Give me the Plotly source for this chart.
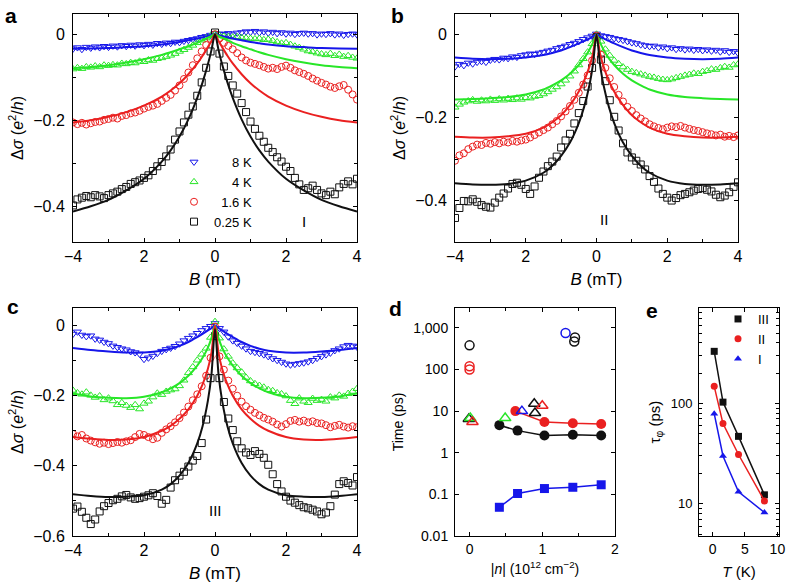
import numpy as np
import plotly.graph_objects as go

W, H = 788, 586

# field sweep for the measured curves (mT), step 0.125
B = np.round(np.arange(-4, 4.0001, 0.125), 3)
# field points for the fitted curves
fit_B = [-4, -3.5, -3, -2.5, -2, -1.5, -1.25, -1, -0.75, -0.5, -0.35, -0.2, -0.1, 0,
         0.1, 0.2, 0.35, 0.5, 0.75, 1, 1.25, 1.5, 2, 2.5, 3, 3.5, 4]

# ---- panel a (sample I)
a_8K = [-0.034, -0.031, -0.035, -0.030, -0.032, -0.029, -0.031, -0.028, -0.030,
        -0.027, -0.029, -0.026, -0.028, -0.025, -0.027, -0.024, -0.026,
        -0.023, -0.025, -0.021, -0.023, -0.020, -0.021, -0.018, -0.019,
        -0.016, -0.014, -0.012, -0.010, -0.007, -0.005, -0.002,
        0.002,
        0.001, 0.000, 0.002, -0.001, 0.003, 0.004, 0.006, 0.005,
        0.007, 0.004, 0.006, 0.003, 0.005, 0.002, 0.004, 0.001,
        0.003, 0.000, 0.002, 0.003, 0.001, 0.002, -0.001, 0.001,
        0.000, 0.002, -0.001, 0.001, -0.002, 0.000, 0.001, -0.001]
a_4K = [-0.081, -0.078, -0.080, -0.076, -0.077, -0.074, -0.076, -0.072, -0.073,
        -0.071, -0.072, -0.068, -0.069, -0.066, -0.067, -0.063, -0.064,
        -0.060, -0.061, -0.057, -0.055, -0.052, -0.049, -0.045, -0.040,
        -0.036, -0.031, -0.026, -0.020, -0.014, -0.009, -0.004,
        0.000,
        -0.003, -0.005, -0.006, -0.007, -0.006, -0.008, -0.009, -0.010,
        -0.011, -0.010, -0.013, -0.012, -0.015, -0.018, -0.021, -0.020,
        -0.024, -0.028, -0.031, -0.035, -0.039, -0.041, -0.044, -0.046,
        -0.048, -0.045, -0.050, -0.047, -0.052, -0.050, -0.054, -0.056]
a_16K = [-0.205, -0.209, -0.206, -0.210, -0.207, -0.204, -0.203, -0.199, -0.197,
         -0.194, -0.196, -0.190, -0.188, -0.184, -0.182, -0.178, -0.173,
         -0.169, -0.166, -0.162, -0.155, -0.148, -0.141, -0.131, -0.119,
         -0.104, -0.089, -0.072, -0.056, -0.040, -0.025, -0.011,
         0.000,
         -0.010, -0.020, -0.027, -0.035, -0.044, -0.054, -0.061, -0.066,
         -0.069, -0.072, -0.076, -0.080, -0.078, -0.081, -0.076, -0.073,
         -0.078, -0.084, -0.088, -0.092, -0.097, -0.103, -0.108, -0.113,
         -0.117, -0.122, -0.125, -0.121, -0.118, -0.129, -0.140, -0.152]
a_025K = [-0.398, -0.384, -0.380, -0.376, -0.379, -0.374, -0.377, -0.381, -0.374,
          -0.370, -0.366, -0.360, -0.355, -0.348, -0.344, -0.340, -0.334,
          -0.328, -0.318, -0.307, -0.297, -0.284, -0.268, -0.245, -0.226,
          -0.205, -0.187, -0.168, -0.143, -0.112, -0.078, -0.040,
          0.004,
          -0.045, -0.075, -0.097, -0.119, -0.138, -0.160, -0.181, -0.203,
          -0.220, -0.236, -0.250, -0.264, -0.274, -0.286, -0.296, -0.308,
          -0.318, -0.334, -0.349, -0.362, -0.358, -0.352, -0.362, -0.370,
          -0.374, -0.366, -0.372, -0.356, -0.348, -0.342, -0.349, -0.336]
a_fit_8K = [-0.034, -0.033, -0.032, -0.030, -0.028, -0.024, -0.021, -0.018, -0.014, -0.010, -0.007, -0.004, -0.002, 0,
            -0.002, -0.004, -0.007, -0.010, -0.014, -0.018, -0.021, -0.024, -0.028, -0.030, -0.032, -0.033, -0.034]
a_fit_4K = [-0.079, -0.076, -0.072, -0.066, -0.058, -0.048, -0.042, -0.035, -0.028, -0.020, -0.014, -0.008, -0.004, 0,
            -0.004, -0.008, -0.014, -0.020, -0.028, -0.035, -0.042, -0.048, -0.058, -0.066, -0.072, -0.076, -0.079]
a_fit_16K = [-0.205, -0.200, -0.192, -0.181, -0.166, -0.145, -0.131, -0.114, -0.093, -0.068, -0.050, -0.030, -0.016, 0,
             -0.016, -0.030, -0.050, -0.068, -0.093, -0.114, -0.131, -0.145, -0.166, -0.181, -0.192, -0.200, -0.205]
a_fit_025K = [-0.412, -0.400, -0.385, -0.363, -0.336, -0.296, -0.270, -0.238, -0.198, -0.148, -0.112, -0.070, -0.037, 0,
              -0.037, -0.070, -0.112, -0.148, -0.198, -0.238, -0.270, -0.296, -0.336, -0.363, -0.385, -0.400, -0.412]

# ---- panel b (sample II)
b_8K = [-0.077, -0.071, -0.074, -0.068, -0.070, -0.066, -0.064, -0.066, -0.061,
        -0.059, -0.060, -0.056, -0.057, -0.053, -0.054, -0.050, -0.048,
        -0.046, -0.047, -0.044, -0.042, -0.039, -0.037, -0.033, -0.030,
        -0.027, -0.023, -0.020, -0.016, -0.011, -0.007, -0.003,
        0.002,
        -0.002, -0.004, -0.006, -0.009, -0.011, -0.013, -0.016, -0.019,
        -0.021, -0.024, -0.026, -0.028, -0.027, -0.031, -0.029, -0.033,
        -0.031, -0.035, -0.033, -0.036, -0.034, -0.037, -0.035, -0.038,
        -0.036, -0.039, -0.037, -0.041, -0.038, -0.042, -0.040, -0.044]
b_4K = [-0.175, -0.168, -0.163, -0.160, -0.157, -0.161, -0.158, -0.160, -0.156,
        -0.159, -0.155, -0.158, -0.154, -0.157, -0.153, -0.156, -0.152,
        -0.153, -0.149, -0.147, -0.143, -0.138, -0.132, -0.126, -0.119,
        -0.110, -0.100, -0.088, -0.073, -0.058, -0.042, -0.022,
        0.001,
        -0.016, -0.035, -0.050, -0.062, -0.070, -0.078, -0.084, -0.089,
        -0.092, -0.095, -0.098, -0.101, -0.103, -0.106, -0.108, -0.109,
        -0.107, -0.104, -0.101, -0.098, -0.096, -0.093, -0.094, -0.089,
        -0.087, -0.083, -0.084, -0.080, -0.077, -0.079, -0.073, -0.071]
b_16K = [-0.304, -0.291, -0.286, -0.276, -0.270, -0.265, -0.266, -0.261, -0.263,
         -0.259, -0.262, -0.258, -0.260, -0.256, -0.258, -0.255, -0.253,
         -0.248, -0.242, -0.236, -0.230, -0.224, -0.216, -0.208, -0.197,
         -0.185, -0.172, -0.157, -0.140, -0.120, -0.098, -0.062,
         -0.002,
         -0.048, -0.080, -0.105, -0.126, -0.145, -0.161, -0.174, -0.184,
         -0.194, -0.202, -0.209, -0.216, -0.221, -0.225, -0.228, -0.224,
         -0.221, -0.223, -0.220, -0.224, -0.227, -0.230, -0.232, -0.235,
         -0.238, -0.240, -0.243, -0.241, -0.246, -0.244, -0.247, -0.243]
b_025K = [-0.442, -0.418, -0.401, -0.402, -0.397, -0.403, -0.411, -0.415, -0.417,
          -0.405, -0.393, -0.383, -0.371, -0.360, -0.357, -0.362, -0.372,
          -0.384, -0.366, -0.345, -0.330, -0.317, -0.306, -0.294, -0.272,
          -0.255, -0.239, -0.214, -0.189, -0.160, -0.125, -0.080,
          -0.006,
          -0.060, -0.112, -0.158, -0.198, -0.231, -0.262, -0.284, -0.296,
          -0.304, -0.313, -0.325, -0.341, -0.355, -0.371, -0.384, -0.393,
          -0.400, -0.394, -0.387, -0.384, -0.380, -0.376, -0.372, -0.370,
          -0.374, -0.378, -0.386, -0.392, -0.388, -0.380, -0.367, -0.356]
b_fit_8K = [-0.055, -0.058, -0.059, -0.058, -0.055, -0.049, -0.044, -0.038, -0.030, -0.021, -0.015, -0.009, -0.004, 0,
            -0.004, -0.009, -0.015, -0.021, -0.030, -0.038, -0.044, -0.049, -0.055, -0.058, -0.059, -0.058, -0.055]
b_fit_4K = [-0.156, -0.155, -0.153, -0.150, -0.144, -0.132, -0.122, -0.110, -0.094, -0.073, -0.057, -0.036, -0.019, 0,
            -0.019, -0.036, -0.057, -0.073, -0.094, -0.110, -0.122, -0.132, -0.144, -0.150, -0.153, -0.155, -0.156]
b_fit_16K = [-0.246, -0.248, -0.248, -0.245, -0.239, -0.224, -0.211, -0.194, -0.170, -0.137, -0.111, -0.077, -0.045, 0,
             -0.045, -0.077, -0.111, -0.137, -0.170, -0.194, -0.211, -0.224, -0.239, -0.245, -0.248, -0.248, -0.246]
b_fit_025K = [-0.358, -0.361, -0.362, -0.360, -0.352, -0.333, -0.316, -0.292, -0.260, -0.213, -0.174, -0.122, -0.072, 0,
              -0.072, -0.122, -0.174, -0.213, -0.260, -0.292, -0.316, -0.333, -0.352, -0.360, -0.362, -0.361, -0.358]

# ---- panel c (sample III)
c_8K = [-0.024, -0.018, -0.027, -0.031, -0.029, -0.038, -0.041, -0.047, -0.051,
        -0.058, -0.062, -0.066, -0.069, -0.074, -0.077, -0.081, -0.096,
        -0.092, -0.087, -0.079, -0.073, -0.068, -0.064, -0.059, -0.052,
        -0.043, -0.036, -0.029, -0.022, -0.014, -0.008, -0.002,
        0.006,
        -0.008, -0.018, -0.032, -0.043, -0.050, -0.058, -0.066, -0.073,
        -0.076, -0.079, -0.083, -0.088, -0.094, -0.099, -0.104, -0.109,
        -0.112, -0.110, -0.108, -0.106, -0.103, -0.099, -0.093, -0.088,
        -0.083, -0.078, -0.071, -0.066, -0.060, -0.056, -0.058, -0.061]
c_4K = [-0.185, -0.192, -0.196, -0.190, -0.199, -0.205, -0.201, -0.212, -0.207,
        -0.215, -0.226, -0.220, -0.228, -0.234, -0.226, -0.238, -0.222,
        -0.216, -0.204, -0.193, -0.197, -0.188, -0.184, -0.181, -0.172,
        -0.156, -0.135, -0.118, -0.099, -0.082, -0.065, -0.034,
        0.011,
        -0.036, -0.067, -0.088, -0.107, -0.121, -0.133, -0.148, -0.158,
        -0.166, -0.171, -0.176, -0.183, -0.186, -0.192, -0.195, -0.201,
        -0.214, -0.223, -0.207, -0.216, -0.220, -0.208, -0.214, -0.211,
        -0.216, -0.204, -0.207, -0.199, -0.202, -0.194, -0.188, -0.180]
c_16K = [-0.309, -0.316, -0.312, -0.322, -0.328, -0.333, -0.337, -0.334, -0.338,
         -0.335, -0.332, -0.334, -0.330, -0.327, -0.318, -0.309, -0.312,
         -0.318, -0.324, -0.320, -0.306, -0.296, -0.287, -0.276, -0.264,
         -0.248, -0.231, -0.213, -0.196, -0.173, -0.143, -0.092,
         -0.003,
         -0.088, -0.126, -0.157, -0.180, -0.200, -0.217, -0.230, -0.240,
         -0.249, -0.256, -0.263, -0.268, -0.274, -0.282, -0.288, -0.281,
         -0.272, -0.269, -0.274, -0.271, -0.276, -0.273, -0.278, -0.279,
         -0.284, -0.290, -0.286, -0.283, -0.288, -0.291, -0.287, -0.290]
c_025K = [-0.522, -0.516, -0.531, -0.548, -0.566, -0.553, -0.530, -0.515, -0.506,
          -0.498, -0.494, -0.487, -0.483, -0.490, -0.494, -0.492, -0.488,
          -0.484, -0.478, -0.486, -0.508, -0.497, -0.462, -0.441, -0.428,
          -0.417, -0.402, -0.385, -0.372, -0.335, -0.268, -0.150,
          -0.030,
          -0.150, -0.218, -0.265, -0.298, -0.330, -0.350, -0.362, -0.369,
          -0.358, -0.366, -0.377, -0.397, -0.424, -0.452, -0.473, -0.488,
          -0.499, -0.505, -0.512, -0.518, -0.521, -0.525, -0.530, -0.538,
          -0.533, -0.515, -0.482, -0.452, -0.444, -0.449, -0.456, -0.432]
c_fit_8K = [-0.064, -0.070, -0.074, -0.077, -0.077, -0.072, -0.066, -0.058, -0.047, -0.033, -0.024, -0.014, -0.007, 0,
            -0.007, -0.014, -0.024, -0.033, -0.047, -0.058, -0.066, -0.072, -0.077, -0.077, -0.074, -0.070, -0.064]
c_fit_4K = [-0.194, -0.202, -0.206, -0.207, -0.203, -0.190, -0.179, -0.164, -0.143, -0.114, -0.092, -0.063, -0.036, 0,
            -0.036, -0.063, -0.092, -0.114, -0.143, -0.164, -0.179, -0.190, -0.203, -0.207, -0.206, -0.202, -0.194]
c_fit_16K = [-0.318, -0.323, -0.326, -0.325, -0.318, -0.300, -0.286, -0.266, -0.239, -0.200, -0.168, -0.123, -0.078, 0,
             -0.078, -0.123, -0.168, -0.200, -0.239, -0.266, -0.286, -0.300, -0.318, -0.325, -0.326, -0.323, -0.318]
c_fit_025K = [-0.481, -0.486, -0.489, -0.488, -0.484, -0.468, -0.452, -0.428, -0.392, -0.336, -0.287, -0.214, -0.140, -0.010,
              -0.140, -0.214, -0.287, -0.336, -0.392, -0.428, -0.452, -0.468, -0.484, -0.488, -0.489, -0.486, -0.481]

# ---- panel d: times vs |n|
d_n_line = [0.41, 0.66, 1.03, 1.42, 1.81]
d_black_fill = [4.6, 3.4, 2.6, 2.7, 2.6]
d_blue_fill = [0.049, 0.105, 0.138, 0.148, 0.17]
d_n_red = [0.63, 1.03, 1.42, 1.81]
d_red_fill = [10.0, 5.5, 5.1, 4.9]
d_circ_black_n, d_circ_black = [0.0, 1.45, 1.44], [380, 590, 470]
d_circ_red_n, d_circ_red = [0.0, 0.0], [120, 100]
d_circ_blue_n, d_circ_blue = [1.32], [750]
d_tri_black_n, d_tri_black = [-0.01, 0.89, 0.9], [6.5, 15, 9]
d_tri_green_n, d_tri_green = [0.01, 0.49], [6.8, 6.8]
d_tri_red_n, d_tri_red = [0.04, 1.0], [5.5, 13.4]
d_tri_blue_n, d_tri_blue = [0.72], [10]

# ---- panel e: tau_phi vs T
e_T = [0.25, 1.6, 4, 8]
e_III = [330, 103, 47, 12.3]
e_II = [148, 63, 31, 10.7]
e_I = [79, 30, 13.2, 8.2]

BLUE, GREEN, RED, BLACK = "#1616ea", "#28e628", "#ea2020", "#111111"
FONT = "Liberation Sans, Arial, sans-serif"


def px(x):
    return x / W


def py(y):
    return 1 - y / H


fig = go.Figure()

panels = [
    ("x", "y", [a_8K, a_4K, a_16K, a_025K], [a_fit_8K, a_fit_4K, a_fit_16K, a_fit_025K], True),
    ("x2", "y2", [b_8K, b_4K, b_16K, b_025K], [b_fit_8K, b_fit_4K, b_fit_16K, b_fit_025K], False),
    ("x3", "y3", [c_8K, c_4K, c_16K, c_025K], [c_fit_8K, c_fit_4K, c_fit_16K, c_fit_025K], False),
]
symbols = ["triangle-down-open", "triangle-up-open", "circle-open", "square-open"]
colors = [BLUE, GREEN, RED, BLACK]
# figure/punctuation spaces keep the labels right-aligned like the original
legend_names = ["\u2007\u2008\u20078 K", "\u2007\u2008\u20074 K", "\u20071.6 K", "0.25 K"]

for xa, ya, data, fits, leg in panels:
    for k in range(4):
        fig.add_trace(go.Scatter(
            x=B, y=data[k], mode="markers", xaxis=xa, yaxis=ya,
            name=legend_names[k], showlegend=leg, legend="legend",
            marker=dict(symbol=symbols[k], size=7, color=colors[k],
                        line=dict(width=1, color=colors[k]))))
    for k in range(4):
        fig.add_trace(go.Scatter(
            x=fit_B, y=fits[k], mode="lines", xaxis=xa, yaxis=ya, showlegend=False,
            line=dict(color=colors[k], width=2, shape="spline", smoothing=0.8)))


def dtrace(x, y, mode, sym, col, size, lw=1.5):
    fig.add_trace(go.Scatter(
        x=x, y=y, mode=mode, xaxis="x4", yaxis="y4", showlegend=False,
        line=dict(color=col, width=1.5),
        marker=dict(symbol=sym, size=size, color=col, line=dict(width=lw, color=col))))


dtrace(d_n_line, d_blue_fill, "lines+markers", "square", BLUE, 9, 0)
dtrace(d_n_line, d_black_fill, "lines+markers", "circle", BLACK, 10, 0)
dtrace(d_n_red, d_red_fill, "lines+markers", "circle", RED, 10, 0)
dtrace(d_circ_black_n, d_circ_black, "markers", "circle-open", BLACK, 9)
dtrace(d_circ_red_n, d_circ_red, "markers", "circle-open", RED, 9)
dtrace(d_circ_blue_n, d_circ_blue, "markers", "circle-open", BLUE, 9)
dtrace(d_tri_black_n, d_tri_black, "markers", "triangle-up-open", BLACK, 10)
dtrace(d_tri_green_n, d_tri_green, "markers", "triangle-up-open", GREEN, 10)
dtrace(d_tri_red_n, d_tri_red, "markers", "triangle-up-open", RED, 10)
dtrace(d_tri_blue_n, d_tri_blue, "markers", "triangle-up-open", BLUE, 10)

for name, vals, sym, col in [("III", e_III, "square", BLACK), ("II", e_II, "circle", RED),
                             ("I", e_I, "triangle-up", BLUE)]:
    fig.add_trace(go.Scatter(x=e_T, y=vals, mode="lines", xaxis="x5", yaxis="y5",
                             showlegend=False, line=dict(color=col, width=1.5)))
    fig.add_trace(go.Scatter(x=e_T, y=vals, mode="markers", xaxis="x5", yaxis="y5",
                             name=name, legend="legend2",
                             marker=dict(symbol=sym, size=7, color=col)))


def base(fs):
    return dict(showline=True, linecolor="black", linewidth=1, mirror="ticks",
                ticks="inside", ticklen=4, tickcolor="black", showgrid=False,
                zeroline=False, automargin=False, ticklabeloverflow="allow",
                tickfont=dict(size=fs, color="black"))


minor_base = dict(ticks="inside", ticklen=3, tickcolor="black")


def bx(dom, anchor):
    return dict(base(16), domain=dom, anchor=anchor, range=[-4, 4],
                tickmode="array", tickvals=[-4, -2, 0, 2, 4],
                ticktext=["\u22124", "2", "0", "2", "4"],
                minor=dict(minor_base, tickvals=[-3, -1, 1, 3]),
                title=dict(text="<i>B</i> (mT)", font=dict(size=17), standoff=8))


def sy(dom, anchor, rng, vals, minor):
    return dict(base(16), domain=dom, anchor=anchor, range=rng,
                tickmode="array", tickvals=vals, ticklabelstandoff=4,
                minor=dict(minor_base, tickvals=minor),
                title=dict(text="\u0394<i>\u03c3</i> (<i>e</i><sup>2</sup>/<i>h</i>)",
                           font=dict(size=16), standoff=5))


top_y = [py(242), py(14)]
bot_y = [py(536), py(308)]

fig.update_layout(
    width=W, height=H, margin=dict(l=0, r=0, t=0, b=0, autoexpand=False),
    paper_bgcolor="white", plot_bgcolor="white",
    font=dict(family=FONT, color="black", size=13),
    xaxis=bx([px(73), px(357)], "y"),
    yaxis=sy(top_y, "x", [-0.483, 0.047], [0, -0.2, -0.4], [-0.1, -0.3]),
    xaxis2=bx([px(455), px(738)], "y2"),
    yaxis2=sy(top_y, "x2", [-0.5, 0.05], [0, -0.2, -0.4], [-0.1, -0.3]),
    xaxis3=bx([px(73), px(357)], "y3"),
    yaxis3=sy(bot_y, "x3", [-0.6, 0.05], [0, -0.2, -0.4, -0.6], [-0.1, -0.3, -0.5]),
    xaxis4=dict(base(14), domain=[px(455), px(615)], anchor="y4", range=[-0.2, 2],
                tickmode="array", tickvals=[0, 1, 2],
                minor=dict(minor_base, tickvals=[0.5, 1.5]),
                title=dict(text="|<i>n</i>| (10<sup>12</sup> cm<sup>\u22122</sup>)",
                           font=dict(size=14), standoff=8)),
    yaxis4=dict(base(14), domain=bot_y, anchor="x4", type="log",
                range=[-2, np.log10(3000)], tickmode="array", ticklabelstandoff=3,
                tickvals=[0.01, 0.1, 1, 10, 100, 1000],
                ticktext=["0.01", "0.1", "1", "10", "100", "1,000"],
                title=dict(text="Time (ps)", font=dict(size=14), standoff=6)),
    xaxis5=dict(base(14), domain=[px(699), px(779)], anchor="y5", range=[-2.1, 10.25],
                tickmode="array", tickvals=[0, 5, 10],
                title=dict(text="<i>T</i> (K)", font=dict(size=15), standoff=10)),
    yaxis5=dict(base(13), domain=bot_y, anchor="x5", type="log",
                range=[0.68, 2.95], tickmode="array", tickvals=[10, 100], ticklabelstandoff=3,
                minor=dict(minor_base, tickvals=[5, 6, 7, 8, 9, 20, 30, 40, 50, 60, 70, 80, 90,
                                                 200, 300, 400, 500, 600, 700, 800]),
                title=dict(text="\u03c4<sub>\u03c6</sub> (ps)", font=dict(size=15), standoff=6)),
    legend=dict(x=px(174), y=py(147), xanchor="left", yanchor="top",
                bgcolor="rgba(0,0,0,0)", font=dict(size=13), tracegroupgap=0),
    legend2=dict(x=px(718), y=py(304), xanchor="left", yanchor="top",
                 bgcolor="rgba(0,0,0,0)", font=dict(size=13), tracegroupgap=0),
)

# panel letters and sample labels
for txt, x, y in [("a", 11, 16), ("b", 397, 16), ("c", 13, 306), ("d", 395, 308), ("e", 652, 310)]:
    fig.add_annotation(text="<b>%s</b>" % txt, x=px(x), y=py(y), xref="paper", yref="paper",
                       showarrow=False, xanchor="center", yanchor="middle",
                       font=dict(size=21, family=FONT, color="black"))
for txt, xa, ya, x, y in [("I", "x", "y", 2.5, -0.435), ("II", "x2", "y2", 0.2, -0.445),
                          ("III", "x3", "y3", 0.0, -0.527)]:
    fig.add_annotation(text=txt, x=x, y=y, xref=xa, yref=ya, showarrow=False,
                       font=dict(size=15, color="black"))

# drop the browser's default 8 px body margin so the figure fills the window
fig.write_html("out.html", config={"displayModeBar": False},
               post_script="document.body.style.margin = '0px';")
